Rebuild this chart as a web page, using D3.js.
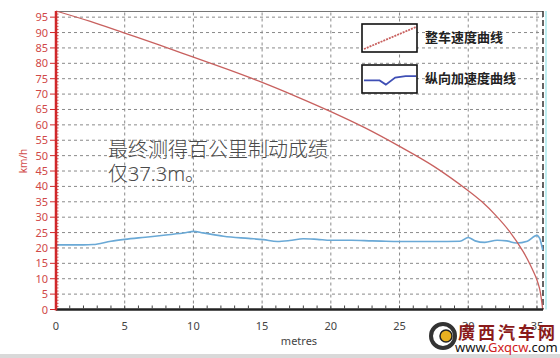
<!DOCTYPE html>
<html><head><meta charset="utf-8">
<script src="https://cdn.jsdelivr.net/npm/d3@7"></script>
<style>
html,body{margin:0;padding:0;background:#fff;}
svg{display:block;}
text{font-family:"Noto Sans","Noto Sans CJK SC",sans-serif;}
</style></head>
<body>
<svg id="c" width="560" height="358"></svg>
<script>
// ---- data ----
const speedX = [0, 2.5, 5, 7.5, 10, 12.5, 15, 17.5, 20, 22.5, 25, 27.5, 30, 31, 32, 33, 34, 34.5, 35, 35.2, 35.42];
const speedY = [97, 93.6, 89.8, 86, 82, 78, 73.8, 69.2, 64.3, 59, 53, 46.5, 38.6, 35, 30.6, 25.4, 18.8, 14.6, 9.6, 6.6, 0];
const accelX = [0, 1, 2, 2.7, 4, 5, 6.5, 8, 9.5, 10, 10.7, 12.2, 14, 15.1, 16.1, 17, 18, 19, 20, 21.5, 23, 24, 25.8, 27.5, 29.4, 30, 30.5, 31.2, 32.1, 32.8, 33.5, 34.3, 35, 35.2, 35.42];
const accelY = [21, 21, 21, 21.1, 22.2, 22.8, 23.5, 24.2, 25, 25.4, 24.9, 23.8, 23.1, 22.7, 22.1, 22.4, 23, 22.8, 22.5, 22.5, 22.3, 22.2, 22.1, 22.1, 22.2, 23.4, 22.3, 21.8, 22.5, 22.3, 21.6, 22.2, 24.1, 23.1, 19.3];
const xTicks = [0, 5, 10, 15, 20, 25, 30, 35];
const yTicks = [0, 5, 10, 15, 20, 25, 30, 35, 40, 45, 50, 55, 60, 65, 70, 75, 80, 85, 90, 95];
const seriesNames = ["整车速度曲线", "纵向加速度曲线"];
const noteLines = ["最终测得百公里制动成绩", "仅37.3m。"];
const xLabel = "metres";
const yLabel = "km/h";

// ---- drawing ----
const svg = d3.select("#c");
const x = d3.scaleLinear().domain([0, 35.44]).range([56, 543]);
const y = d3.scaleLinear().domain([0, 97]).range([309.5, 11]);
const red = "#c8615f", blue = "#6aa9d6", axisRed = "#d0282a";

// bottom gray band
svg.append("rect").attr("x",0).attr("y",354).attr("width",560).attr("height",4).attr("fill","#d9d9d9");

// grid
const g = svg.append("g");
g.selectAll(".hg").data(yTicks.filter(d=>d>0)).join("line")
  .attr("x1", x(0)).attr("x2", x(35.44)).attr("y1", d=>y(d)).attr("y2", d=>y(d))
  .attr("stroke","#8a8a8a").attr("stroke-width",1).attr("stroke-dasharray","3,3");
g.selectAll(".vg").data(xTicks.filter(d=>d>0)).join("line")
  .attr("x1", d=>x(d)).attr("x2", d=>x(d)).attr("y1", y(0)).attr("y2", y(97))
  .attr("stroke","#8a8a8a").attr("stroke-width",1).attr("stroke-dasharray","3,3");
// top border
g.append("line").attr("x1",x(0)).attr("x2",x(35.44)).attr("y1",y(97)+0.5).attr("y2",y(97)+0.5)
  .attr("stroke","#777").attr("stroke-width",1);
// right border (dark dashed) and cyan line
g.append("line").attr("x1",x(35.44)+3).attr("x2",x(35.44)+3).attr("y1",y(97)).attr("y2",y(0))
  .attr("stroke","#bfeff2").attr("stroke-width",2);
g.append("line").attr("x1",x(35.44)).attr("x2",x(35.44)).attr("y1",y(97)).attr("y2",y(0))
  .attr("stroke","#333").attr("stroke-width",1.5).attr("stroke-dasharray","6,3");

// series
const line = d3.line().x(d=>x(d[0])).y(d=>y(d[1])).curve(d3.curveMonotoneX);
svg.append("path").datum(accelX.map((v,i)=>[v,accelY[i]])).attr("d",line)
  .attr("fill","none").attr("stroke",blue).attr("stroke-width",1.6);
svg.append("path").datum(speedX.map((v,i)=>[v,speedY[i]])).attr("d",d3.line().x(d=>x(d[0])).y(d=>y(d[1])).curve(d3.curveCatmullRom))
  .attr("fill","none").attr("stroke",red).attr("stroke-width",1.3);

// x axis
const xa = svg.append("g").attr("transform",`translate(0,${y(0)})`);
xa.append("line").attr("x1",x(0)).attr("x2",x(35.44)).attr("stroke","#222").attr("stroke-width",2.5);
xa.selectAll(".mt").data(d3.range(1,36)).join("line")
  .attr("x1",d=>x(d)).attr("x2",d=>x(d)).attr("y1",-1).attr("y2",-4).attr("stroke","#444").attr("stroke-width",1);
xa.selectAll(".xl").data(xTicks).join("text")
  .attr("x",d=>x(d)).attr("y",20).attr("text-anchor","middle")
  .attr("font-size",11).attr("fill","#444").text(d=>d);
svg.append("text").attr("x",299).attr("y",345).attr("text-anchor","middle")
  .attr("font-size",11).attr("fill","#444").text(xLabel);

// y axis
const ya = svg.append("g");
ya.selectAll(".yt").data(yTicks).join("line")
  .attr("x1",50).attr("x2",x(0)).attr("y1",d=>y(d)).attr("y2",d=>y(d)).attr("stroke",axisRed).attr("stroke-width",1);
ya.selectAll(".ymt").data(d3.range(1,97)).join("line")
  .attr("x1",x(0)).attr("x2",x(0)+2.5).attr("y1",d=>y(d)).attr("y2",d=>y(d)).attr("stroke",axisRed).attr("stroke-width",0.8);
ya.selectAll(".yl").data(yTicks).join("text")
  .attr("x",48).attr("y",d=>y(d)+4).attr("text-anchor","end")
  .attr("font-size",11).attr("fill","#d04848").text(d=>d);
ya.append("line").attr("x1",x(0)).attr("x2",x(0)).attr("y1",y(97)).attr("y2",y(0)+1)
  .attr("stroke",axisRed).attr("stroke-width",2.5);
svg.append("text").attr("transform","translate(27,161) rotate(-90)").attr("text-anchor","middle")
  .attr("font-size",10).attr("fill","#d04848").text(yLabel);

// annotation
svg.selectAll(".note").data(noteLines).join("text")
  .attr("x",108).attr("y",(d,i)=>157+i*24)
  .attr("font-family","Noto Sans CJK SC").attr("font-size",20).attr("fill","#4a4a4a")
  .attr("font-weight",300).text(d=>d);

// legend
const lg = svg.append("g");
const boxes = [{y:24, c:red}, {y:65, c:"#3f4fb5"}];
boxes.forEach((b,i)=>{
  lg.append("rect").attr("x",362).attr("y",b.y).attr("width",55).attr("height",28)
    .attr("fill","#fff").attr("stroke","#111").attr("stroke-width",1.6);
  lg.append("text").attr("x",425).attr("y",b.y+18).attr("font-family","Noto Sans CJK SC")
    .attr("font-size",13).attr("font-weight",700).attr("fill","#222").text(seriesNames[i]);
});
const iconSpeed = [[0,0],[1,1]];
const iconAccel = [[0,0.55],[0.3,0.55],[0.42,0.7],[0.6,0.45],[0.8,0.4],[1,0.4]];
const ix = d3.scaleLinear().domain([0,1]).range([364,416]);
lg.append("path").datum(iconSpeed).attr("d",d3.line().x(d=>ix(d[0])).y(d=>d3.scaleLinear().domain([0,1]).range([49,27])(d[1])))
  .attr("stroke",red).attr("stroke-width",1.8).attr("stroke-dasharray","2,1").attr("fill","none");
lg.append("path").datum(iconAccel).attr("d",d3.line().x(d=>ix(d[0])).y(d=>d3.scaleLinear().domain([0,1]).range([65,93])(d[1])))
  .attr("stroke","#3f4fb5").attr("stroke-width",1.8).attr("fill","none");

// watermark
const wm = svg.append("g");
wm.append("circle").attr("cx",443).attr("cy",336).attr("r",12).attr("fill","none").attr("stroke","#333").attr("stroke-width",4);
wm.append("circle").attr("cx",446).attr("cy",336).attr("r",6).attr("fill","#e8b020").attr("stroke","#222").attr("stroke-width",1.5);
wm.append("text").attr("x",458).attr("y",339).attr("font-family","Noto Sans CJK TC").attr("font-size",17)
  .attr("fill","#8a1a1a").attr("font-weight",700).attr("letter-spacing",3).text("廣西汽车网");
const wt = wm.append("text").attr("x",455).attr("y",352).attr("font-family","Liberation Sans").attr("font-size",13);
wt.append("tspan").attr("fill","#111").text("www.");
wt.append("tspan").attr("fill","#d02020").text("Gxqcw");
wt.append("tspan").attr("fill","#111").text(".com");
</script>
</body></html>
